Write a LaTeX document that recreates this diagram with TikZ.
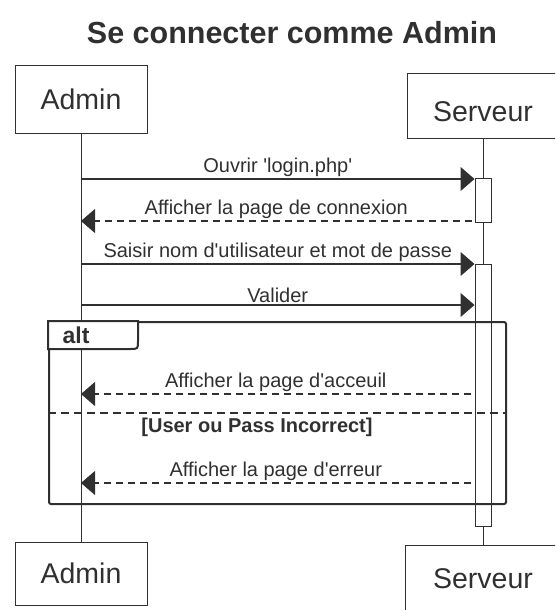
\documentclass[tikz,border=0pt]{standalone}
\usepackage{fontspec}
\setmainfont{Liberation Sans}
\usetikzlibrary{arrows.meta,calc}
\definecolor{ink}{HTML}{303030}
\newcommand\sq{\textquotesingle}
\tikzset{
  actor/.style={draw=ink, line width=1pt, minimum width=132pt, minimum height=67pt,
    inner sep=0pt, text=ink, font=\fontsize{28.5}{30}\selectfont},
  actorlabel/.style={inner sep=0pt, text=ink, font=\fontsize{28.5}{30}\selectfont},
  lifeline/.style={draw=ink, line width=1pt},
  activation/.style={draw=ink, fill=white, line width=1pt, minimum width=16pt, inner sep=0pt},
  call/.style={draw=ink, line width=1.1pt, -{Triangle[length=14pt,width=24pt]}},
  reply/.style={call, dash pattern=on 7pt off 5pt},
  msg/.style={above, inner sep=2pt, text=ink, font=\fontsize{20}{22}\selectfont},
  frame/.style={draw=ink, line width=2pt, rounded corners=2pt, minimum width=457pt,
    minimum height=182pt, inner sep=0pt},
  tab/.style={draw=ink, fill=white, line width=2pt},
  separator/.style={draw=ink, line width=2pt, dash pattern=on 8pt off 5pt},
  bold/.style={inner sep=0pt, text=ink, font=\fontsize{20}{22}\selectfont\bfseries},
  heading/.style={inner sep=0pt, text=ink, font=\fontsize{30.5}{36}\selectfont\bfseries},
}
\begin{document}
\begin{tikzpicture}[x=1pt,y=-1pt]
\useasboundingbox (0,0) rectangle (555,610);
\clip (0,0) rectangle (555,610);

% title
\node[heading, anchor=base] (title) at (292,44) {Se connecter comme Admin};

% participants, top and bottom
\node[actor] (aTop) at (81,99.5) {Admin};
\node[actor, minimum width=152pt, minimum height=65pt] (sTop) at (483,105.5) {};
\node[actorlabel] (sTopLabel) at ([yshift=-6pt]sTop.center) {Serveur};
\node[actor, minimum height=63pt] (aBot) at (81,573.5) {Admin};
\node[actor, minimum width=156pt] (sBot) at (483,578.5) {Serveur};

% lifelines
\draw[lifeline] (aTop.south) -- (aBot.north);
\draw[lifeline] (sTop.south) -- (sBot.north);

% activation bars
\node[activation, minimum height=44pt, anchor=north] (act1) at (483,178) {};
\node[activation, minimum height=262pt, anchor=north] (act2) at (483,264) {};

% message levels
\coordinate (y1) at (0,179);
\coordinate (y2) at (0,221);
\coordinate (y3) at (0,264);
\coordinate (y4) at (0,305);
\coordinate (y5) at (0,394);
\coordinate (ysep) at (0,413);
\coordinate (y6) at (0,483);

% alt combined fragment
\node[frame] (alt) at (277.5,413) {};
\path[tab] (alt.north west) -- ($(alt.north west)+(90,0)$) -- ($(alt.north west)+(90,20)$)
  .. controls ($(alt.north west)+(90,28)$) .. ($(alt.north west)+(82,28)$)
  -- ($(alt.north west)+(0,28)$) -- cycle;
\node[bold, font=\fontsize{23}{24}\selectfont\bfseries] (altLabel) at ($(alt.north west)+(28,14)$) {alt};
\draw[separator] (alt.west |- ysep) -- (alt.east |- ysep);
\node[bold] (guard) at (257,427) {[User ou Pass Incorrect]};

% messages
\draw[call] (aTop.south |- y1) -- (act1.west |- y1)
  node[midway, msg] {Ouvrir \sq login.php\sq};
\draw[reply] ([xshift=-3pt]act1.west |- y2) -- (aTop.south |- y2)
  node[midway, msg] {Afficher la page de connexion};
\draw[call] (aTop.south |- y3) -- (act2.west |- y3)
  node[midway, msg] {Saisir nom d\sq utilisateur et mot de passe};
\draw[call] (aTop.south |- y4) -- (act2.west |- y4)
  node[midway, msg] {Valider};
\draw[reply] ([xshift=-4pt]act2.west |- y5) -- (aTop.south |- y5)
  node[midway, msg] {Afficher la page d\sq acceuil};
\draw[reply] ([xshift=-4pt]act2.west |- y6) -- (aTop.south |- y6)
  node[midway, msg] {Afficher la page d\sq erreur};
\end{tikzpicture}
\end{document}
